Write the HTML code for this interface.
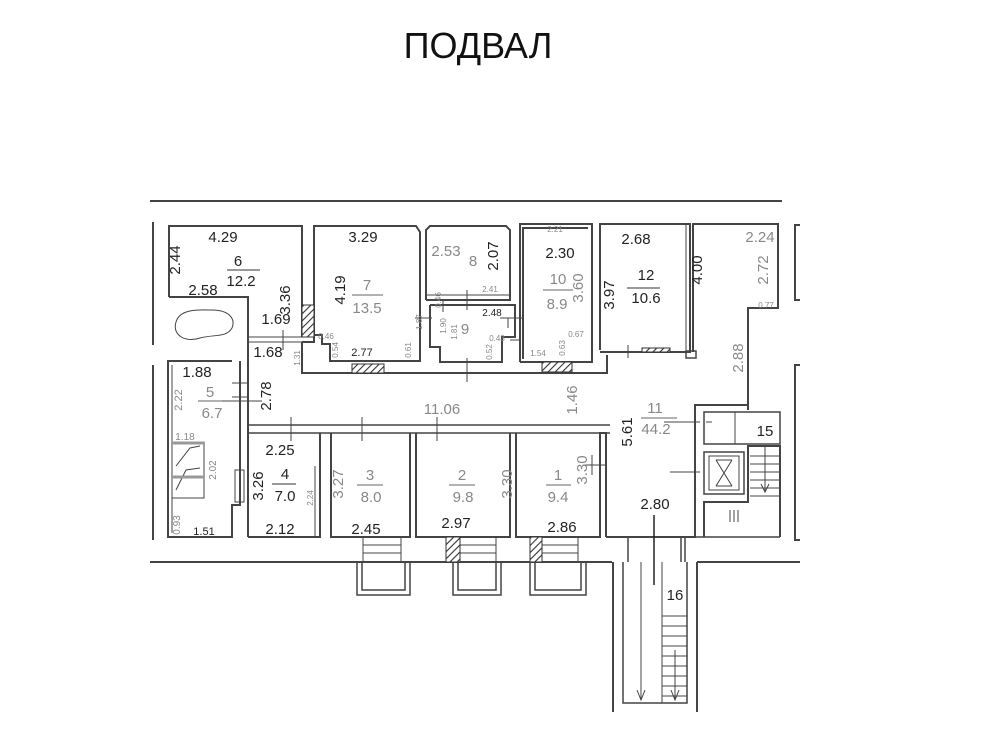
<!DOCTYPE html>
<html><head><meta charset="utf-8"><style>
html,body{margin:0;padding:0;background:#fff}
svg{display:block}
text{font-family:"Liberation Sans",sans-serif}
.b{fill:#222;font-size:15px}
.g{fill:#888;font-size:15px}
.s{fill:#888;font-size:8px}
</style></head><body>
<svg width="1000" height="750" viewBox="0 0 1000 750" xmlns="http://www.w3.org/2000/svg">
<defs><pattern id="h" width="5" height="5" patternUnits="userSpaceOnUse" patternTransform="rotate(45)"><rect width="5" height="5" fill="#fff"/><line x1="0" y1="0" x2="0" y2="5" stroke="#333" stroke-width="2.2"/></pattern></defs>
<text x="478" y="58" text-anchor="middle" style="font-size:36px;fill:#111">ПОДВАЛ</text>
<g fill="none" stroke="#444" stroke-width="2">
<line x1="150" y1="201" x2="782" y2="201"/>
<line x1="153" y1="222" x2="153" y2="345"/>
<line x1="153" y1="365" x2="153" y2="540"/>
<polyline points="169,297 169,226 302,226 302,337"/>
<polyline points="169,297 248,297 248,362"/>
<line x1="248" y1="337" x2="302" y2="337" stroke-width="1"/>
<line x1="248" y1="342" x2="302" y2="342" stroke-width="1"/>
<polyline points="302,342 314,342 314,226 416,226 420,232 420,350"/>
<polyline points="314,335 322,335 322,344 330,344 330,361 420,361 420,350"/>
<polyline points="302,342 302,373 607,373 607,355"/>
<polyline points="426,300 426,230 430,226 506,226 510,230 510,300 426,300"/>
<line x1="426" y1="295" x2="510" y2="295" stroke-width="1"/>
<polyline points="430,305 515,305 515,337 502,337 502,362 440,362 440,347 430,347 430,305"/>
<polyline points="520,362 520,224 592,224 592,362 520,362"/>
<polyline points="523,359 523,228 588,228"/>
<polyline points="600,350 600,224 690,224 690,352 600,352"/>
<polyline points="693,352 693,224 778,224 778,308 748,308 748,410"/>
<line x1="686" y1="224" x2="686" y2="352" stroke-width="1"/>
<rect x="686" y="351" width="10" height="7" stroke-width="1.5"/>
<polyline points="800,225 795,225 795,300 800,300"/>
<polyline points="800,365 795,365 795,540 800,540"/>
<line x1="248" y1="425" x2="610" y2="425" stroke-width="1.5"/>
<line x1="248" y1="433" x2="610" y2="433" stroke-width="1.5"/>
<line x1="248" y1="362" x2="248" y2="537"/>
<line x1="232" y1="383" x2="248" y2="383" stroke-width="1"/>
<line x1="232" y1="397" x2="248" y2="397" stroke-width="1"/>
<polyline points="232,361 168,361 168,537 232,537 232,505 240,505 240,361"/>
<line x1="172" y1="365" x2="172" y2="533" stroke-width="1"/>
<polyline points="248,537 320,537 320,433"/>
<line x1="315" y1="466" x2="315" y2="537" stroke-width="1"/>
<polyline points="331,433 331,537 410,537 410,433"/>
<polyline points="416,433 416,537 510,537 510,433"/>
<polyline points="516,433 516,537 600,537 600,433 606,433 606,537"/>
<polyline points="606,537 695,537 695,405 748,405"/>
<rect x="704" y="412" width="76" height="32" stroke-width="1.5"/>
<line x1="735" y1="412" x2="735" y2="444" stroke-width="1"/>
<rect x="704" y="452" width="40" height="42" stroke-width="1.5"/>
<rect x="709" y="456" width="30" height="34" stroke-width="1"/>
<path d="M716 460 L732 486 M732 460 L716 486 M716 460 H732 M716 486 H732" stroke-width="1"/>
<polyline points="704,537 704,502 748,502 748,446 780,446 780,537"/>
<line x1="695" y1="537" x2="780" y2="537" stroke-width="1.5"/>
<g stroke-width="1">
<line x1="750" y1="456" x2="780" y2="456"/><line x1="750" y1="464" x2="780" y2="464"/><line x1="750" y1="472" x2="780" y2="472"/><line x1="750" y1="480" x2="780" y2="480"/><line x1="750" y1="488" x2="780" y2="488"/><line x1="750" y1="496" x2="780" y2="496"/>
<line x1="765" y1="446" x2="765" y2="492"/><path d="M761 484 L765 492 L769 484"/>
<line x1="730" y1="510" x2="730" y2="522"/><line x1="734" y1="510" x2="734" y2="522"/><line x1="738" y1="510" x2="738" y2="522"/>
</g>
<line x1="150" y1="562" x2="612" y2="562"/>
<line x1="697" y1="562" x2="800" y2="562"/>
<line x1="613" y1="562" x2="613" y2="712"/>
<line x1="697" y1="562" x2="697" y2="712"/>
<polyline points="623,562 623,703 687,703 687,562" stroke-width="1.5"/>
<line x1="628" y1="537" x2="628" y2="562" stroke-width="1.5"/>
<line x1="681" y1="537" x2="681" y2="562" stroke-width="1.5"/>
<line x1="685" y1="537" x2="685" y2="562" stroke-width="1.5"/>
<g stroke-width="1">
<line x1="662" y1="562" x2="662" y2="703"/>
<line x1="641" y1="562" x2="641" y2="700"/><path d="M637 690 L641 700 L645 690"/>
<line x1="675" y1="650" x2="675" y2="700"/><path d="M671 690 L675 700 L679 690"/>
<line x1="662" y1="616" x2="687" y2="616"/><line x1="662" y1="626" x2="687" y2="626"/><line x1="662" y1="636" x2="687" y2="636"/><line x1="662" y1="646" x2="687" y2="646"/><line x1="662" y1="656" x2="687" y2="656"/><line x1="662" y1="666" x2="687" y2="666"/><line x1="662" y1="676" x2="687" y2="676"/><line x1="662" y1="686" x2="687" y2="686"/><line x1="662" y1="696" x2="687" y2="696"/>
<line x1="654" y1="515" x2="654" y2="585" stroke="#222" stroke-width="1.5"/>
</g>
<g stroke-width="1.5">
<rect x="357" y="562" width="53" height="33"/><rect x="362" y="562" width="43" height="28"/>
<rect x="453" y="562" width="48" height="33"/><rect x="458" y="562" width="38" height="28"/>
<rect x="530" y="562" width="56" height="33"/><rect x="535" y="562" width="46" height="28"/>
</g>
<g stroke-width="1">
<path d="M363 537 V562 M401 537 V562 M363 545 H401 M363 553 H401"/>
<path d="M446 537 V562 M496 537 V562 M446 545 H496 M446 553 H496"/>
<path d="M530 537 V562 M578 537 V562 M530 545 H578 M530 553 H578"/>
<path d="M176 322 C180 308 200 310 212 310 C228 310 236 318 232 328 C226 338 215 334 200 338 C185 343 172 335 176 322 Z"/>
<rect x="172" y="442" width="32" height="56"/>
<path d="M176 490 L186 470 L200 468 M176 466 L190 448 L200 446"/>
<line x1="172" y1="477" x2="204" y2="477" stroke-width="3" stroke="#999"/>
<line x1="172" y1="443" x2="204" y2="443" stroke-width="3" stroke="#999"/>
<rect x="235" y="470" width="9" height="32"/>
<path d="M283 330 V350 M443 300 V312 M467 290 V310 M415 318 H432 M508 318 V328 M500 318 H522 M467 358 V382 M628 345 V358 M291 417 V441 M362 417 V441 M437 417 V441 M592 455 V475 M585 465 H605 M198 401 H262 M664 422 H700 M670 472 H700 M706 422 H712 M510 340 H520"/>
</g>
</g>
<g stroke="#333" stroke-width="1">
<rect x="302" y="305" width="12" height="32" fill="url(#h)"/>
<rect x="352" y="364" width="32" height="9" fill="url(#h)"/>
<rect x="542" y="362" width="30" height="10" fill="url(#h)"/>
<rect x="642" y="348" width="28" height="4" fill="url(#h)"/>
<rect x="446" y="537" width="14" height="25" fill="url(#h)"/>
<rect x="530" y="537" width="12" height="25" fill="url(#h)"/>
</g>
<g class="b">
<text x="223" y="242" text-anchor="middle">4.29</text>
<text x="238" y="266" text-anchor="middle">6</text>
<line x1="227" y1="270" x2="260" y2="270" stroke="#333"/>
<text x="241" y="286" text-anchor="middle">12.2</text>
<text x="203" y="295" text-anchor="middle">2.58</text>
<text transform="translate(180,260) rotate(-90)" text-anchor="middle">2.44</text>
<text transform="translate(290,300) rotate(-90)" text-anchor="middle">3.36</text>
<text x="276" y="324" text-anchor="middle">1.69</text>
<text x="268" y="357" text-anchor="middle">1.68</text>
<text x="197" y="377" text-anchor="middle">1.88</text>
<text transform="translate(271,396) rotate(-90)" text-anchor="middle">2.78</text>
<text x="363" y="242" text-anchor="middle">3.29</text>
<text transform="translate(345,290) rotate(-90)" text-anchor="middle">4.19</text>
<text x="560" y="258" text-anchor="middle">2.30</text>
<text x="636" y="244" text-anchor="middle">2.68</text>
<text transform="translate(614,295) rotate(-90)" text-anchor="middle">3.97</text>
<text x="646" y="280" text-anchor="middle">12</text>
<line x1="627" y1="288" x2="660" y2="288" stroke="#333"/>
<text x="646" y="303" text-anchor="middle">10.6</text>
<text transform="translate(702,270) rotate(-90)" text-anchor="middle">4.00</text>
<text transform="translate(632,432) rotate(-90)" text-anchor="middle">5.61</text>
<text x="280" y="455" text-anchor="middle">2.25</text>
<text transform="translate(263,486) rotate(-90)" text-anchor="middle">3.26</text>
<text x="285" y="479" text-anchor="middle">4</text>
<line x1="272" y1="484" x2="296" y2="484" stroke="#333"/>
<text x="285" y="501" text-anchor="middle">7.0</text>
<text x="280" y="534" text-anchor="middle">2.12</text>
<text x="366" y="534" text-anchor="middle">2.45</text>
<text x="456" y="528" text-anchor="middle">2.97</text>
<text x="562" y="532" text-anchor="middle">2.86</text>
<text x="655" y="509" text-anchor="middle">2.80</text>
<text x="675" y="600" text-anchor="middle">16</text>
<text x="765" y="436" text-anchor="middle">15</text>
</g>
<g class="g">
<text transform="translate(583,288) rotate(-90)" text-anchor="middle">3.60</text>
<text x="558" y="284" text-anchor="middle">10</text>
<line x1="543" y1="290" x2="573" y2="290" stroke="#666"/>
<text x="557" y="309" text-anchor="middle">8.9</text>
<text x="367" y="290" text-anchor="middle">7</text>
<line x1="352" y1="295" x2="383" y2="295" stroke="#666"/>
<text x="367" y="313" text-anchor="middle">13.5</text>
<text x="446" y="256" text-anchor="middle">2.53</text>
<text x="473" y="266" text-anchor="middle">8</text>
<text transform="translate(498,256) rotate(-90)" text-anchor="middle" style="fill:#222">2.07</text>
<text x="465" y="334" text-anchor="middle">9</text>
<text x="760" y="242" text-anchor="middle">2.24</text>
<text transform="translate(768,270) rotate(-90)" text-anchor="middle">2.72</text>
<text transform="translate(743,358) rotate(-90)" text-anchor="middle">2.88</text>
<text x="442" y="414" text-anchor="middle">11.06</text>
<text transform="translate(577,400) rotate(-90)" text-anchor="middle">1.46</text>
<text x="655" y="413" text-anchor="middle">11</text>
<line x1="641" y1="418" x2="677" y2="418" stroke="#666"/>
<text x="656" y="434" text-anchor="middle">44.2</text>
<text x="210" y="397" text-anchor="middle">5</text>
<line x1="198" y1="401" x2="222" y2="401" stroke="#666"/>
<text x="212" y="418" text-anchor="middle">6.7</text>
<text transform="translate(343,484) rotate(-90)" text-anchor="middle">3.27</text>
<text x="370" y="480" text-anchor="middle">3</text>
<line x1="357" y1="485" x2="383" y2="485" stroke="#666"/>
<text x="371" y="502" text-anchor="middle">8.0</text>
<text x="462" y="480" text-anchor="middle">2</text>
<line x1="449" y1="485" x2="475" y2="485" stroke="#666"/>
<text x="463" y="502" text-anchor="middle">9.8</text>
<text transform="translate(512,484) rotate(-90)" text-anchor="middle">3.30</text>
<text x="558" y="480" text-anchor="middle">1</text>
<line x1="546" y1="485" x2="571" y2="485" stroke="#666"/>
<text x="558" y="502" text-anchor="middle">9.4</text>
<text transform="translate(587,470) rotate(-90)" text-anchor="middle">3.30</text>
<text transform="translate(182,400) rotate(-90)" text-anchor="middle" style="font-size:11px">2.22</text>
</g>
<g class="s">
<text x="555" y="232" text-anchor="middle">2.21</text>
<text x="490" y="292" text-anchor="middle">2.41</text>
<text x="492" y="316" text-anchor="middle" style="fill:#222;font-size:10px">2.48</text>
<text transform="translate(441,300) rotate(-90)" text-anchor="middle">0.46</text>
<text transform="translate(422,322) rotate(-90)" text-anchor="middle">1.87</text>
<text transform="translate(446,326) rotate(-90)" text-anchor="middle">1.90</text>
<text transform="translate(457,332) rotate(-90)" text-anchor="middle">1.81</text>
<text x="497" y="341" text-anchor="middle">0.43</text>
<text transform="translate(492,352) rotate(-90)" text-anchor="middle">0.52</text>
<text x="326" y="339" text-anchor="middle">0.46</text>
<text transform="translate(338,350) rotate(-90)" text-anchor="middle">0.54</text>
<text x="362" y="356" text-anchor="middle" style="fill:#222;font-size:11px">2.77</text>
<text transform="translate(411,350) rotate(-90)" text-anchor="middle">0.61</text>
<text transform="translate(300,358) rotate(-90)" text-anchor="middle">1.31</text>
<text x="576" y="337" text-anchor="middle">0.67</text>
<text x="538" y="356" text-anchor="middle">1.54</text>
<text transform="translate(565,348) rotate(-90)" text-anchor="middle">0.63</text>
<text x="766" y="308" text-anchor="middle">0.77</text>
<text x="185" y="440" text-anchor="middle" style="font-size:10px">1.18</text>
<text transform="translate(216,470) rotate(-90)" text-anchor="middle" style="font-size:10px">2.02</text>
<text transform="translate(180,525) rotate(-90)" text-anchor="middle" style="font-size:10px">0.93</text>
<text x="204" y="535" text-anchor="middle" style="fill:#222;font-size:11px">1.51</text>
<text transform="translate(313,498) rotate(-90)" text-anchor="middle">2.24</text>
</g>
</svg>
</body></html>
